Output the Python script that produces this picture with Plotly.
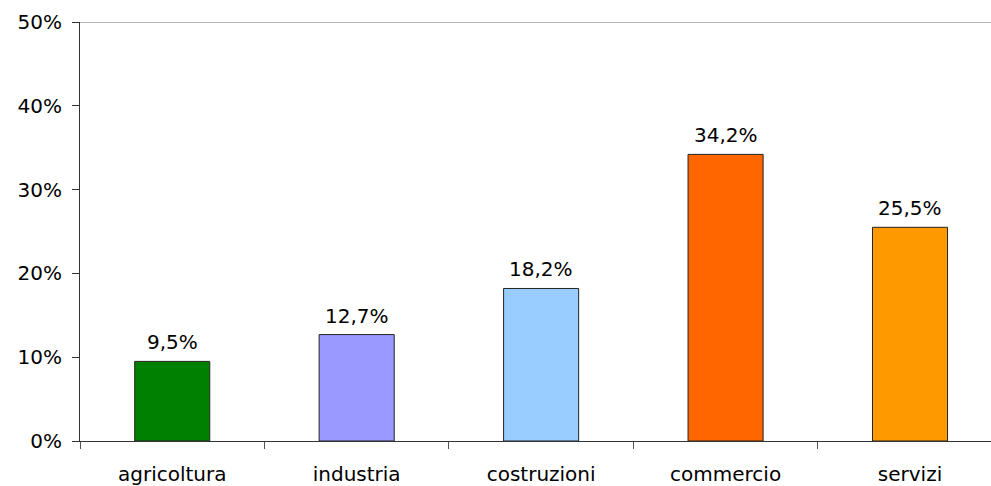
import plotly.graph_objects as go

categories = ["agricoltura", "industria", "costruzioni", "commercio", "servizi"]
values = [0.095, 0.127, 0.182, 0.342, 0.255]
labels = ["9,5%", "12,7%", "18,2%", "34,2%", "25,5%"]
colors = ["#008000", "#9999FF", "#99CCFF", "#FF6600", "#FF9900"]
y_ticks = [0, 0.1, 0.2, 0.3, 0.4, 0.5]

FONT = "DejaVu Sans"

fig = go.Figure()
fig.add_trace(go.Bar(
    x=categories,
    y=values,
    marker=dict(color=colors, line=dict(color="#222222", width=1)),
    width=0.407,
    hoverinfo="skip",
))

for c, v, t in zip(categories, values, labels):
    fig.add_annotation(x=c, y=v, text=t, showarrow=False, xanchor="center",
                       yanchor="bottom", yshift=5,
                       font=dict(family=FONT, size=20, color="#000000"))

fig.add_shape(type="line", xref="paper", yref="y", x0=0, x1=1, y0=0.5, y1=0.5,
              line=dict(color="#A0A0A0", width=1.5), layer="below")

fig.update_layout(
    width=991, height=486,
    margin=dict(l=80, r=0, t=22, b=45),
    paper_bgcolor="white", plot_bgcolor="white",
    separators=",.",
    showlegend=False,
    font=dict(family=FONT, size=20, color="#000000"),
    xaxis=dict(
        range=[-0.5, 4.439],
        showgrid=False,
        showline=True, linecolor="#333333", linewidth=1.2,
        ticks="outside", tickson="boundaries", ticklen=7, tickcolor="#555555",
        ticklabelstandoff=15,
        tickfont=dict(family=FONT, size=20),
        fixedrange=True,
    ),
    yaxis=dict(
        range=[0, 0.5],
        tickvals=y_ticks,
        tickformat=".0%",
        showgrid=False, zeroline=False,
        showline=True, linecolor="#333333", linewidth=1.2,
        ticks="outside", ticklen=7, tickcolor="#333333",
        ticklabelstandoff=6,
        tickfont=dict(family=FONT, size=20),
        fixedrange=True,
    ),
)

fig.write_html("out.html")
